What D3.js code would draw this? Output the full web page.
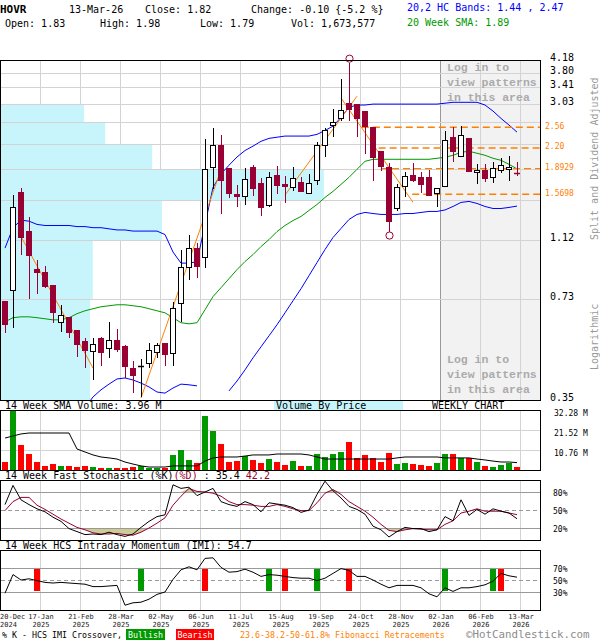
<!DOCTYPE html>
<html><head><meta charset="utf-8">
<script src="https://cdn.jsdelivr.net/npm/d3@7/dist/d3.min.js"></script>
<style>
html,body{margin:0;padding:0;background:#fff;}
svg{display:block;}
text{font-family:"DejaVu Sans Mono",monospace;}
</style></head><body>
<svg id="chart" width="600" height="640"></svg>
<script>
// ---------------- DATA ----------------
const open  = [0.72,0.78,1.60,1.20,0.91,0.89,0.81,0.62,0.64,0.584,0.54,0.50,0.55,0.512,0.543,0.52,0.442,0.447,0.459,0.497,0.531,0.494,0.712,0.926,1.064,0.996,1.911,2.244,1.897,1.568,1.545,1.911,1.699,1.447,1.802,1.687,1.65,1.712,1.58,1.737,2.244,2.598,2.734,3.051,3.029,2.878,2.56,2.148,1.911,1.415,1.662,1.802,1.776,1.776,1.58,1.662,2.379,2.071,2.362,1.842,1.869,1.776,1.869,1.883,1.83];
const high  = [0.722,1.56,1.64,1.33,0.97,0.93,0.81,0.70,0.642,0.585,0.55,0.55,0.555,0.62,0.588,0.523,0.466,0.4725,0.531,0.531,0.531,0.717,1.049,1.17,1.104,2.345,2.541,2.414,1.897,1.675,1.897,1.939,1.763,1.842,1.925,1.789,1.911,1.776,1.815,2.294,2.541,2.92,3.637,4.10,3.03,2.88,2.56,2.15,1.967,1.687,1.842,1.967,1.842,1.869,1.638,2.486,2.56,2.579,2.362,1.953,1.953,1.982,2.041,2.071,1.98];
const low   = [0.57,0.59,1.01,0.73,0.76,0.79,0.615,0.576,0.551,0.479,0.442,0.405,0.449,0.476,0.497,0.411,0.368,0.357,0.442,0.476,0.449,0.449,0.619,0.842,0.854,0.919,1.626,1.364,1.523,1.426,1.447,1.545,1.335,1.426,1.568,1.468,1.603,1.591,1.568,1.675,2.056,2.379,2.675,2.675,2.379,2.101,1.724,1.855,1.196,1.385,1.534,1.712,1.58,1.545,1.426,1.662,1.982,2.071,1.842,1.687,1.712,1.699,1.829,1.724,1.79];
const close = [0.61,1.43,1.15,1.01,0.89,0.806,0.666,0.652,0.576,0.527,0.505,0.527,0.497,0.543,0.508,0.449,0.42,0.449,0.505,0.523,0.49,0.686,0.926,1.064,0.933,1.883,2.244,1.737,1.58,1.545,1.75,1.638,1.426,1.776,1.675,1.662,1.763,1.603,1.699,2.244,2.504,2.655,2.899,2.92,2.734,2.579,2.056,1.925,1.287,1.65,1.789,1.737,1.687,1.557,1.638,2.327,2.148,2.414,1.855,1.869,1.763,1.897,1.939,1.92,1.82];

const bbUpper = [1.06,1.23,1.30,1.29,1.26,1.25,1.25,1.25,1.25,1.24,1.24,1.23,1.23,1.22,1.21,1.21,1.20,1.20,1.20,1.20,1.17,1.03,0.95,0.95,0.96,1.26,1.65,1.82,1.94,2.06,2.16,2.23,2.31,2.36,2.38,2.40,2.40,2.40,2.40,2.43,2.50,2.58,2.75,2.96,3.01,3.01,3.03,3.03,3.03,3.03,3.03,3.03,3.03,3.03,3.03,3.05,3.07,3.07,3.07,3.07,3.01,2.88,2.73,2.60,2.47];
const bbLower = [null,null,null,null,null,null,null,null,null,null,0.33,0.358,0.377,0.393,0.408,0.411,0.405,0.396,0.385,0.371,0.368,0.382,0.393,0.391,0.388,null,null,null,0.374,0.402,0.436,0.476,0.516,0.559,0.606,0.661,0.722,0.788,0.867,0.954,1.049,1.145,1.223,1.306,1.355,1.375,1.364,1.355,1.355,1.355,1.364,1.364,1.375,1.385,1.385,1.40,1.436,1.479,1.49,1.468,1.436,1.415,1.415,1.426,1.44];
const sma20 = [0.619,0.638,0.642,0.642,0.638,0.633,0.628,0.628,0.638,0.657,0.671,0.681,0.691,0.696,0.701,0.701,0.696,0.691,0.681,0.671,0.661,0.638,0.615,0.610,0.615,0.676,0.744,0.794,0.848,0.906,0.961,1.011,1.072,1.128,1.196,1.250,1.296,1.335,1.395,1.457,1.534,1.603,1.687,1.776,1.883,1.996,2.026,2.026,2.026,2.026,2.026,2.026,2.026,2.026,2.041,2.056,2.086,2.132,2.148,2.117,2.086,2.041,2.011,1.953,1.89];

const volume = [4.5,34,13.4,8.6,4.5,2.3,3.0,2.3,2.3,1.8,2.3,1.6,1.1,1.1,1.1,1.1,1.8,2.2,1.3,1.3,1.3,8.1,10.8,5.4,3.6,29.0,21.0,14.0,4.1,4.8,7.5,5.4,3.8,5.9,4.1,2.7,4.8,2.2,2.2,8.4,7.0,8.4,9.5,14.9,6.6,8.1,6.3,4.3,9.0,3.2,3.8,3.2,2.7,2.3,3.8,8.4,8.4,6.6,6.6,4.3,2.3,1.8,2.7,3.9,1.67];
const volSMA = [17.2,18.3,19.4,19.9,19.9,19.9,19.9,19.9,19.9,11.3,9.7,8.1,7.0,6.5,5.9,4.3,3.2,2.2,1.6,1.6,1.6,2.2,2.2,2.2,2.2,4.8,6.5,7.0,7.0,7.0,7.5,8.1,8.1,8.1,8.6,8.6,8.6,8.6,8.1,7.0,5.9,5.9,5.9,5.9,5.9,5.9,5.9,5.9,5.9,6.5,7.0,7.0,7.0,7.0,7.0,6.5,6.5,6.5,6.5,5.9,5.4,4.8,4.3,4.3,3.96];

const stochK = [59,91,67,59,52,47,38,31,19,14,9,10,9,13,9,6,10,21,31,39,42,92,86,88,74,80,86,64,59,56,64,59,47,62,60,58,54,46,50,76,98,82,70,56,51,43,23,17,5,14,21,19,19,14,17,39,32,67,41,51,43,52,48,45,35.4];
const stochD = [49,64,71,71,58,51,43,35,28,21,17,12,10,10,11,9,8,13,20,28,37,58,73,86,81,80,78,73,64,59,59,58,56,56,59,56,52,49,49,62,78,84,76,64,56,48,38,26,16,14,17,19,18,17,17,26,32,45,48,52,48,48,48,45,42.2];
const imi = [28,59,50,52,49,46,45,46,45,44,43,39,39,40,41,8,12,13,18,26,30,51,67,72,67,86,87,71,63,64,68,63,56,59,58,56,54,53,53,49,53,61,69,66,56,56,50,43,37,41,41,41,37,27,22,37,31,37,37,39,42,48,61,57,54.7];
const crossIdx  = [4,17,25,33,35,39,43,55,61,62];
const crossType = ["bear","bull","bear","bull","bear","bull","bear","bull","bull","bear"];

const priceTicks = [4.18,3.80,3.41,3.03,2.65,2.26,1.88,1.50,1.12,0.73,0.35];
const priceTickLabels = ["4.18","3.80","3.41","3.03","","","","","1.12","0.73","0.35"];
const fibLevels = [2.56,2.20,1.8929,1.5698];
const fibLabels = ["2.56","2.20","1.8929","1.5698"];
const fibStartIdx = [44.6,46.7,47.0,50.9];
const trendFrom = [[2,1.153],[17,0.355],[35,1.56],[42,3.17]];
const trendTo   = [[11,0.442],[27,1.88],[44,3.21],[51,1.48]];
const vbpLo  = [0.35,0.73,1.12,1.50,1.88,2.26,2.65];
const vbpHi  = [0.73,1.12,1.50,1.88,2.26,2.65,3.03];
const vbpPct = [16.5,17.0,29.8,59.8,28.0,19.3,15.4];
const volTicks = [32.28,21.52,10.76];
const stochTicks = [80,50,20];
const imiTicks = [70,50,30];
const dateIdx = [0,4,9,14,19,24,29,34,39,44,49,54,59,64];
const dateTop = ["20-Dec","17-Jan","21-Feb","28-Mar","02-May","06-Jun","11-Jul","15-Aug","19-Sep","24-Oct","28-Nov","02-Jan","06-Feb","13-Mar"];
const dateBot = ["2024","2025","2025","2025","2025","2025","2025","2025","2025","2025","2025","2026","2026","2026"];
const highIdx = 43, lowIdx = 48;

// ---------------- SCALES ----------------
const svg = d3.select("#chart");
const N = close.length;
const x  = d3.scaleLinear().domain([0, N-1]).range([5, 517]);
const yP = d3.scaleLog().domain([0.35, 4.18]).range([400, 60]);
const yV = d3.scaleLinear().domain([0, 32.28]).range([470, 410]);
const yS = d3.scaleLinear().domain([0, 100]).range([540, 480]);
const yI = d3.scaleLinear().domain([0, 100]).range([610, 550]);
const xV = d3.scaleLinear().domain([0, 100]).range([1, 541]);

const MAROON="#990033", ORANGE="#ff8000", GRID="#d3d3d3", CYAN="#c8f5fc", BLUE="#0000ff", GREEN="#009900";
const gridX = dateIdx.slice(1).map(i => x(i) + 3);

function T(g, s, px, py, o={}) {
  const t = g.append("text").attr("x",px).attr("y",py).text(s)
    .attr("font-size", o.size||10).attr("fill", o.fill||"#000")
    .attr("text-anchor", o.anchor||"start");
  if (o.bold) t.attr("font-weight","bold");
  if (o.family) t.style("font-family", o.family);
  return t;
}

const defs = svg.append("defs");
defs.append("clipPath").attr("id","clipMain").append("rect").attr("x",1).attr("y",61).attr("width",540).attr("height",339);
defs.append("clipPath").attr("id","clipVol").append("rect").attr("x",1).attr("y",411).attr("width",540).attr("height",59);

// ---------------- HEADER ----------------
const hd = svg.append("g");
T(hd,"HOVR",0,13,{bold:true,size:11});
T(hd,"13-Mar-26",69,13);
T(hd,"Close: 1.82",145,13);
T(hd,"Change: -0.10 {-5.2 %}",251,13);
T(hd,"20,2 HC Bands: 1.44 , 2.47",407,11,{fill:BLUE});
T(hd,"Open: 1.83",5,27);
T(hd,"High: 1.98",100,27);
T(hd,"Low: 1.79",200,27);
T(hd,"Vol: 1,673,577",291,27);
T(hd,"20 Week SMA: 1.89",407,26,{fill:GREEN});

// ---------------- MAIN PRICE PANEL ----------------
const main = svg.append("g");
main.append("rect").attr("x",441).attr("y",60).attr("width",100).attr("height",340).attr("fill","#f2f2f2");
main.selectAll(".vg").data(gridX).join("line")
  .attr("x1",d=>d+0.5).attr("x2",d=>d+0.5).attr("y1",61).attr("y2",400)
  .attr("stroke",d=>d===440?"#999":GRID).attr("stroke-width",1);
// volume by price
main.selectAll(".vbp").data(vbpPct).join("rect")
  .attr("x",1).attr("y",(d,i)=>Math.round(yP(vbpHi[i])))
  .attr("width",d=>xV(d)-1)
  .attr("height",(d,i)=>Math.round(yP(vbpLo[i]))-Math.round(yP(vbpHi[i])))
  .attr("fill",CYAN);
main.selectAll(".hg").data(priceTicks.slice(1,-1)).join("line")
  .attr("x1",1).attr("x2",541).attr("y1",d=>Math.floor(yP(d))+0.5).attr("y2",d=>Math.floor(yP(d))+0.5)
  .attr("stroke",GRID);
// pattern texts
const pt = main.append("g");
["Log in to","view patterns","in this area"].forEach((s,k)=>{
  T(pt,s,447,71+15*k,{fill:"#aaaaaa",bold:true,size:11.5,family:"Liberation Mono"});
  T(pt,s,447,363+15*k,{fill:"#aaaaaa",bold:true,size:11.5,family:"Liberation Mono"});
});

const lines = main.append("g").attr("clip-path","url(#clipMain)");
const lineP = d3.line().defined(d=>d!=null).x((d,i)=>x(i)).y(d=>yP(d));
lines.append("path").datum(bbUpper).attr("d",lineP).attr("fill","none").attr("stroke",BLUE).attr("stroke-width",1);
lines.append("path").datum(bbLower).attr("d",lineP).attr("fill","none").attr("stroke",BLUE).attr("stroke-width",1);
lines.append("path").datum(sma20).attr("d",lineP).attr("fill","none").attr("stroke",GREEN).attr("stroke-width",1);
// fib dashed levels
lines.selectAll(".fib").data(fibLevels).join("line")
  .attr("x1",(d,i)=>x(fibStartIdx[i])).attr("x2",541)
  .attr("y1",d=>yP(d)).attr("y2",d=>yP(d))
  .attr("stroke",ORANGE).attr("stroke-width",1.4).attr("stroke-dasharray","7,4");
// trend lines
lines.selectAll(".tr").data(trendFrom).join("line")
  .attr("x1",d=>x(d[0])).attr("y1",d=>yP(d[1]))
  .attr("x2",(d,i)=>x(trendTo[i][0])).attr("y2",(d,i)=>yP(trendTo[i][1]))
  .attr("stroke",ORANGE).attr("stroke-width",1);

// candles
const cg = main.append("g");
d3.range(N).forEach(i=>{
  const up = close[i] >= open[i];
  const cx = x(i);
  const col = up ? "#000" : MAROON;
  cg.append("line").attr("x1",cx+0.5).attr("x2",cx+0.5)
    .attr("y1",Math.round(yP(high[i]))).attr("y2",Math.round(yP(low[i])))
    .attr("stroke",col).attr("stroke-width",1);
  const yo = Math.round(yP(open[i])), yc = Math.round(yP(close[i]));
  const top = Math.min(yo,yc), h = Math.abs(yo-yc);
  if (h < 1.5) {
    cg.append("line").attr("x1",cx-3).attr("x2",cx+3).attr("y1",top+0.5).attr("y2",top+0.5)
      .attr("stroke",col).attr("stroke-width",1.5);
  } else if (up) {
    cg.append("rect").attr("x",cx-2.5).attr("y",top+0.5).attr("width",5).attr("height",h)
      .attr("fill","#fff").attr("stroke","#000").attr("stroke-width",1);
  } else {
    cg.append("rect").attr("x",cx-3).attr("y",top).attr("width",6).attr("height",h+1).attr("fill",MAROON);
  }
});
// high/low markers
cg.append("circle").attr("cx",x(highIdx)+0.5).attr("cy",yP(high[highIdx])-4).attr("r",3.6)
  .attr("fill","none").attr("stroke",MAROON).attr("stroke-width",1);
cg.append("circle").attr("cx",x(lowIdx)+0.5).attr("cy",yP(low[lowIdx])+4).attr("r",3.6)
  .attr("fill","none").attr("stroke",MAROON).attr("stroke-width",1);

main.append("rect").attr("x",0.5).attr("y",60.5).attr("width",540).attr("height",340)
  .attr("fill","none").attr("stroke","#000");

// price axis labels
const axP = d3.axisRight(yP).tickValues(priceTicks).tickFormat((d,i)=>priceTickLabels[i]).tickSize(0).tickPadding(0);
const gA = svg.append("g").attr("transform","translate(550,0)").call(axP);
gA.select(".domain").remove();
gA.selectAll("text").attr("dy",0).attr("font-size",10).attr("fill","#000");
// fib labels
svg.selectAll(".fl").data(fibLabels).join("text")
  .attr("x",545).attr("y",(d,i)=>yP(fibLevels[i])+1.5).text(d=>d)
  .attr("font-size",8).attr("fill",ORANGE);
// side texts
T(svg,"Split and Dividend Adjusted",0,0,{fill:"#999"}).attr("transform","translate(598,240) rotate(-90)");
T(svg,"Logarithmic",0,0,{fill:"#999"}).attr("transform","translate(598,370) rotate(-90)");

// ---------------- VOLUME PANEL ----------------
const vp = svg.append("g");
T(vp,"14 Week SMA Volume: 3.96 M",5,409);
vp.append("rect").attr("x",274).attr("y",401).attr("width",129).attr("height",9).attr("fill",CYAN);
T(vp,"Volume By Price",276,409);
T(vp,"WEEKLY CHART",432,409);
vp.selectAll(".vvg").data(gridX).join("line").attr("x1",d=>d+0.5).attr("x2",d=>d+0.5).attr("y1",411).attr("y2",470).attr("stroke",GRID);
vp.selectAll(".vhg").data(volTicks.slice(1)).join("line").attr("x1",1).attr("x2",541)
  .attr("y1",d=>Math.round(yV(d))+0.5).attr("y2",d=>Math.round(yV(d))+0.5).attr("stroke",GRID);
const vbars = vp.append("g").attr("clip-path","url(#clipVol)");
vbars.selectAll("rect").data(volume).join("rect")
  .attr("x",(d,i)=>x(i)-3).attr("width",6)
  .attr("y",d=>Math.round(yV(d))).attr("height",d=>470-Math.round(yV(d)))
  .attr("fill",(d,i)=>close[i]>=open[i]?GREEN:"#ff0000");
vbars.append("path").datum(volSMA).attr("d",d3.line().x((d,i)=>x(i)).y(d=>yV(d)))
  .attr("fill","none").attr("stroke","#000").attr("stroke-width",1);
vp.append("rect").attr("x",0.5).attr("y",410.5).attr("width",540).attr("height",60).attr("fill","none").attr("stroke","#000");
const axV = d3.axisRight(yV).tickValues(volTicks).tickFormat(d=>d.toFixed(2)+" M").tickSize(0).tickPadding(0);
const gV = svg.append("g").attr("transform","translate(554,0)").call(axV);
gV.select(".domain").remove();
gV.selectAll("text").attr("dy",5).attr("font-size",8).attr("fill","#000");

// ---------------- STOCHASTIC PANEL ----------------
const sp = svg.append("g");
const stT = sp.append("text").attr("x",5).attr("y",479).attr("font-size",10);
stT.append("tspan").text("14 Week Fast Stochastic (%K)").attr("fill","#000");
stT.append("tspan").text("(%D)").attr("fill",MAROON);
stT.append("tspan").text(" : 35.4 ").attr("fill","#000");
stT.append("tspan").text("42.2").attr("fill",MAROON);
sp.selectAll(".svg").data(gridX).join("line").attr("x1",d=>d+0.5).attr("x2",d=>d+0.5).attr("y1",481).attr("y2",540).attr("stroke",GRID);
// shaded extremes (between %D and the 20/80 levels)
const KHAKI="#cccc99";
sp.append("path").datum(stochD).attr("d",d3.area().x((d,i)=>x(i)).y0(yS(20)).y1(d=>yS(Math.min(d,20)))).attr("fill",KHAKI);
sp.append("path").datum(stochD).attr("d",d3.area().x((d,i)=>x(i)).y0(yS(80)).y1(d=>yS(Math.max(d,80)))).attr("fill",KHAKI);
sp.selectAll(".sl").data(stochTicks).join("line").attr("x1",1).attr("x2",541)
  .attr("y1",d=>Math.round(yS(d))+0.5).attr("y2",d=>Math.round(yS(d))+0.5)
  .attr("stroke","#999").attr("stroke-dasharray",d=>d===50?"4,3":null);
sp.append("path").datum(stochD).attr("d",d3.line().x((d,i)=>x(i)).y(d=>yS(d))).attr("fill","none").attr("stroke",MAROON);
sp.append("path").datum(stochK).attr("d",d3.line().x((d,i)=>x(i)).y(d=>yS(d))).attr("fill","none").attr("stroke","#000");
sp.append("rect").attr("x",0.5).attr("y",480.5).attr("width",540).attr("height",60).attr("fill","none").attr("stroke","#000");
const axS = d3.axisRight(yS).tickValues(stochTicks).tickFormat(d=>d+"%").tickSize(0).tickPadding(0);
const gS = svg.append("g").attr("transform","translate(553,0)").call(axS);
gS.select(".domain").remove();
gS.selectAll("text").attr("dy",3).attr("font-size",8).attr("fill","#000");

// ---------------- IMI PANEL ----------------
const ip = svg.append("g");
T(ip,"14 Week HCS Intraday Momentum (IMI): 54.7",5,548.5);
ip.selectAll(".ivg").data(gridX).join("line").attr("x1",d=>d+0.5).attr("x2",d=>d+0.5).attr("y1",551).attr("y2",610).attr("stroke",GRID);
ip.selectAll(".il").data(imiTicks).join("line").attr("x1",1).attr("x2",541)
  .attr("y1",d=>Math.round(yI(d))+0.5).attr("y2",d=>Math.round(yI(d))+0.5)
  .attr("stroke","#999").attr("stroke-dasharray",d=>d===50?"4,3":null);
ip.selectAll(".cx").data(crossIdx).join("rect")
  .attr("x",d=>x(d)-3).attr("width",6)
  .attr("y",Math.round(yI(68))).attr("height",Math.round(yI(32))-Math.round(yI(68)))
  .attr("fill",(d,i)=>crossType[i]==="bull"?GREEN:"#ff0000");
ip.append("path").datum(imi).attr("d",d3.line().x((d,i)=>x(i)).y(d=>yI(d))).attr("fill","none").attr("stroke","#000");
ip.append("rect").attr("x",0.5).attr("y",550.5).attr("width",540).attr("height",60).attr("fill","none").attr("stroke","#000");
const axI = d3.axisRight(yI).tickValues(imiTicks).tickFormat(d=>d+"%").tickSize(0).tickPadding(0);
const gI = svg.append("g").attr("transform","translate(553,0)").call(axI);
gI.select(".domain").remove();
gI.selectAll("text").attr("dy",3).attr("font-size",8).attr("fill","#000");

// ---------------- DATE LABELS ----------------
const dg = svg.append("g");
dateIdx.forEach((idx,k)=>{
  const px = k===0 ? 0 : x(idx)+4;
  const anc = k===0 ? "start" : "middle";
  T(dg,dateTop[k],px,619,{size:7,anchor:anc,fill:"#222"});
  T(dg,dateBot[k],px,627,{size:7,anchor:anc,fill:"#222"});
});

// ---------------- LEGEND ----------------
const lg = svg.append("g");
T(lg,"% K - HCS IMI Crossover,",2,638,{size:8.3});
lg.append("rect").attr("x",126).attr("y",629).attr("width",39).attr("height",11).attr("fill",GREEN);
T(lg,"Bullish",145.5,638,{size:8.3,fill:"#fff",anchor:"middle"});
lg.append("rect").attr("x",176).attr("y",629).attr("width",38).attr("height",11).attr("fill","#ff0000");
T(lg,"Bearish",195,638,{size:8.3,fill:"#fff",anchor:"middle"});
T(lg,"23.6-38.2-50-61.8% Fibonacci Retracements",240,638,{size:8.3,fill:ORANGE});
T(lg,"©HotCandlestick.com",466,638,{size:10.8,fill:"#8c8c8c"});
</script>
</body></html>
